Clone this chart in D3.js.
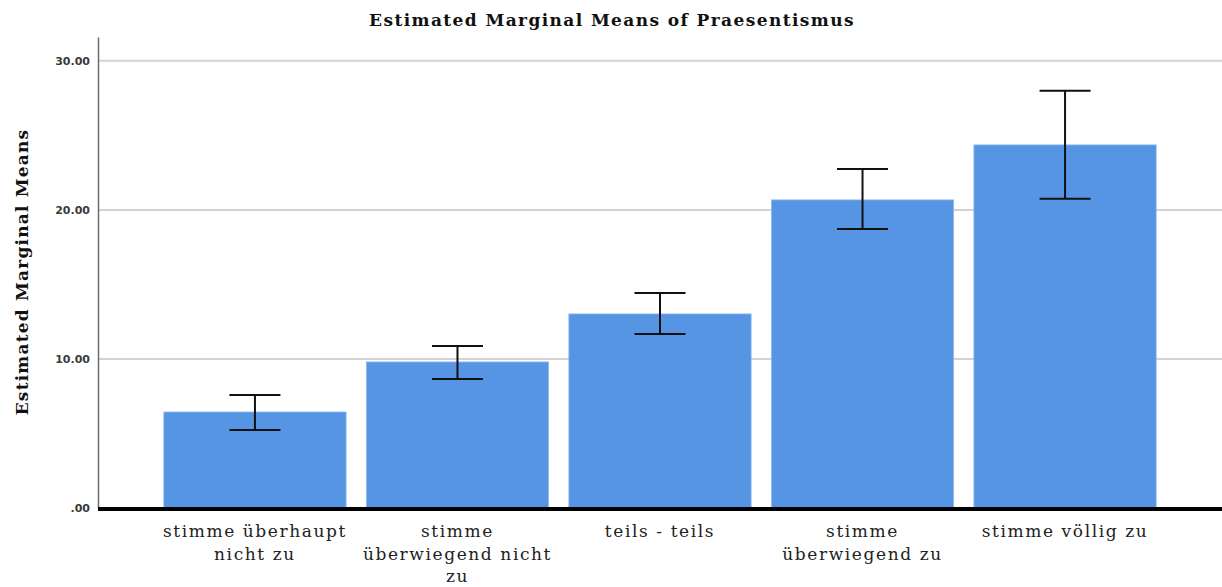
<!DOCTYPE html>
<html>
<head>
<meta charset="utf-8">
<script src="https://cdn.jsdelivr.net/npm/d3@7"></script>
<style>
  body { margin: 0; background: #fff; }
  svg { display: block; }
</style>
</head>
<body>
<svg id="chart" width="1222" height="587"></svg>
<script>
// categories and values
var categories = ["stimme überhaupt nicht zu", "stimme überwiegend nicht zu", "teils - teils", "stimme überwiegend zu", "stimme völlig zu"];
var labelLines = [["stimme überhaupt", "nicht zu"], ["stimme", "überwiegend nicht", "zu"], ["teils - teils"], ["stimme", "überwiegend zu"], ["stimme völlig zu"]];
var means = [6.44, 9.80, 13.02, 20.67, 24.36];
var lower = [5.23, 8.66, 11.68, 18.72, 20.74];
var upper = [7.58, 10.87, 14.43, 22.75, 27.99];
var yTicks = [0, 10, 20, 30];

var svg = d3.select("#chart");
var margin = {top: 37, right: 0, bottom: 79, left: 98},
    width = 1222 - margin.left - margin.right,
    height = 587 - margin.top - margin.bottom;

var x = d3.scaleBand()
    .domain(categories)
    .range([0, width])
    .paddingInner(0.1)
    .paddingOuter(0.325);

var y = d3.scaleLinear()
    .domain([0, 31.6])
    .range([height, 0]);

var g = svg.append("g")
    .attr("transform", "translate(" + margin.left + "," + margin.top + ")");

// gridlines
g.append("g")
    .selectAll("line")
    .data(yTicks.filter(function(d) { return d > 0; }))
    .enter().append("line")
    .attr("x1", 0)
    .attr("x2", width)
    .attr("y1", function(d) { return y(d); })
    .attr("y2", function(d) { return y(d); })
    .attr("stroke", "#d3d3d3")
    .attr("stroke-width", 2);

// y axis
var yAxis = d3.axisLeft(y)
    .tickValues(yTicks)
    .tickSize(0)
    .tickPadding(8)
    .tickFormat(function(d) { return d === 0 ? ".00" : d3.format(".2f")(d); });

var yG = g.append("g").call(yAxis);
yG.select(".domain").attr("stroke", "#6e6e6e").attr("stroke-width", 1.5);
yG.selectAll("text")
    .style("font-family", "'DejaVu Sans', sans-serif")
    .style("font-size", "11px")
    .style("font-weight", "600")
    .attr("fill", "#3a3a3a");

// bars
g.selectAll(".bar")
    .data(categories)
    .enter().append("rect")
    .attr("class", "bar")
    .attr("x", function(d) { return x(d); })
    .attr("width", x.bandwidth())
    .attr("y", function(d, i) { return y(means[i]); })
    .attr("height", function(d, i) { return height - y(means[i]); })
    .attr("fill", "#5595e3")
    .attr("stroke", "#8fb9ee")
    .attr("stroke-width", 0.8);

// error bars
var capW = 51;
var eb = g.selectAll(".err")
    .data(categories)
    .enter().append("g")
    .attr("class", "err")
    .attr("transform", function(d) { return "translate(" + (x(d) + x.bandwidth() / 2) + ",0)"; });

eb.append("line")
    .attr("x1", 0).attr("x2", 0)
    .attr("y1", function(d, i) { return y(upper[i]); })
    .attr("y2", function(d, i) { return y(lower[i]); });
eb.append("line")
    .attr("x1", -capW / 2).attr("x2", capW / 2)
    .attr("y1", function(d, i) { return y(upper[i]); })
    .attr("y2", function(d, i) { return y(upper[i]); });
eb.append("line")
    .attr("x1", -capW / 2).attr("x2", capW / 2)
    .attr("y1", function(d, i) { return y(lower[i]); })
    .attr("y2", function(d, i) { return y(lower[i]); });
eb.selectAll("line")
    .attr("stroke", "#111")
    .attr("stroke-width", 2);

// baseline
g.append("line")
    .attr("x1", 0)
    .attr("x2", width)
    .attr("y1", y(0) + 1)
    .attr("y2", y(0) + 1)
    .attr("stroke", "#000")
    .attr("stroke-width", 4);

// x labels
var xl = g.selectAll(".xlab")
    .data(categories)
    .enter().append("text")
    .attr("class", "xlab")
    .attr("x", function(d) { return x(d) + x.bandwidth() / 2; })
    .attr("y", height + 29)
    .attr("text-anchor", "middle")
    .style("font-family", "'DejaVu Serif', serif")
    .style("font-size", "17px")
    .style("letter-spacing", "1.6px")
    .attr("fill", "#222");

xl.selectAll("tspan")
    .data(function(d, i) { return labelLines[i]; })
    .enter().append("tspan")
    .attr("x", function() { return d3.select(this.parentNode).attr("x"); })
    .attr("dy", function(d, i) { return i === 0 ? 0 : 22.5; })
    .text(function(d) { return d; });

// title
svg.append("text")
    .attr("x", 612)
    .attr("y", 26)
    .attr("text-anchor", "middle")
    .style("font-family", "'DejaVu Serif', serif")
    .style("font-size", "17px")
    .style("font-weight", "bold")
    .style("letter-spacing", "1.4px")
    .attr("fill", "#111")
    .text("Estimated Marginal Means of Praesentismus");

// y axis title
svg.append("text")
    .attr("transform", "translate(28," + 272 + ") rotate(-90)")
    .attr("text-anchor", "middle")
    .style("font-family", "'DejaVu Serif', serif")
    .style("font-size", "17px")
    .style("font-weight", "bold")
    .style("letter-spacing", "1.2px")
    .attr("fill", "#111")
    .text("Estimated Marginal Means");
</script>
</body>
</html>
